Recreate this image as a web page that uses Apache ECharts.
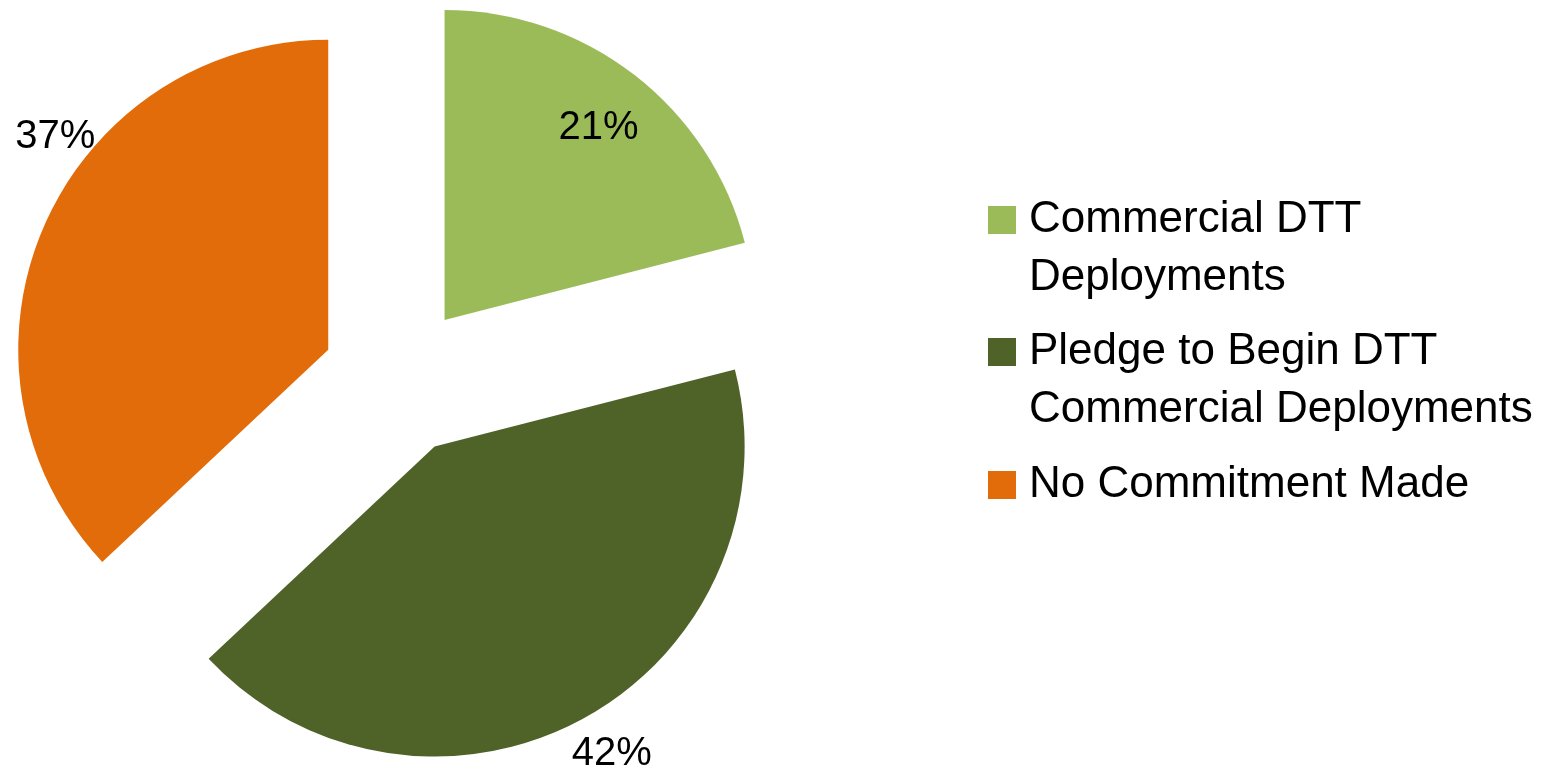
<!DOCTYPE html>
<html>
<head>
<meta charset="utf-8">
<script src="https://cdn.jsdelivr.net/npm/echarts@6/dist/echarts.min.js"></script>
<style>
html,body{margin:0;padding:0;background:#fff;}
#chart{width:1549px;height:775px;}
</style>
</head>
<body>
<div id="chart"></div>
<script>
const categories = ['Commercial DTT Deployments', 'Pledge to Begin DTT Commercial Deployments', 'No Commitment Made'];
const legendLabels = ['Commercial DTT\nDeployments', 'Pledge to Begin DTT\nCommercial Deployments', 'No Commitment Made'];
const values = [21, 42, 37];

const colors = ['#9BBB59', '#4F6228', '#E36C0A'];
const labelShift = [[57, -67], [101, 169], [-128, -150]];
const FONT = 'Liberation Sans, Arial, sans-serif';
const LH = 58;

const chart = echarts.init(document.getElementById('chart'));

const legendTops = [133, 265, 456];
const legends = categories.map((c, i) => {
  const twoLine = legendLabels[i].indexOf('\n') >= 0;
  // a leading empty line keeps the first text line level with the square
  const text = twoLine ? '\n' + legendLabels[i] : legendLabels[i];
  return {
    orient: 'vertical',
    left: 988,
    top: legendTops[i],
    padding: 0,
    icon: 'rect',
    itemWidth: 28,
    itemHeight: 28,
    data: [{ name: c, itemStyle: { color: colors[i] } }],
    formatter: () => text,
    textStyle: {
      fontFamily: FONT,
      fontSize: 44,
      lineHeight: LH,
      color: '#000',
      padding: [0, 0, 0, 8]
    }
  };
});

chart.setOption({
  animation: false,
  backgroundColor: '#fff',
  legend: legends,
  series: [{
    type: 'pie',
    center: [398, 380],
    radius: 310,
    startAngle: 90,
    clockwise: true,
    selectedMode: 'multiple',
    selectedOffset: 76,
    avoidLabelOverlap: false,
    emphasis: { disabled: true },
    label: {
      show: true,
      position: 'inside',
      fontFamily: FONT,
      fontSize: 40,
      color: '#000',
      formatter: p => Math.round(p.percent) + '%'
    },
    labelLine: { show: false },
    labelLayout: p => ({ dx: labelShift[p.dataIndex][0], dy: labelShift[p.dataIndex][1] }),
    data: categories.map((c, i) => ({
      name: c,
      value: values[i],
      selected: true,
      itemStyle: { color: colors[i] }
    }))
  }]
});
</script>
</body>
</html>
